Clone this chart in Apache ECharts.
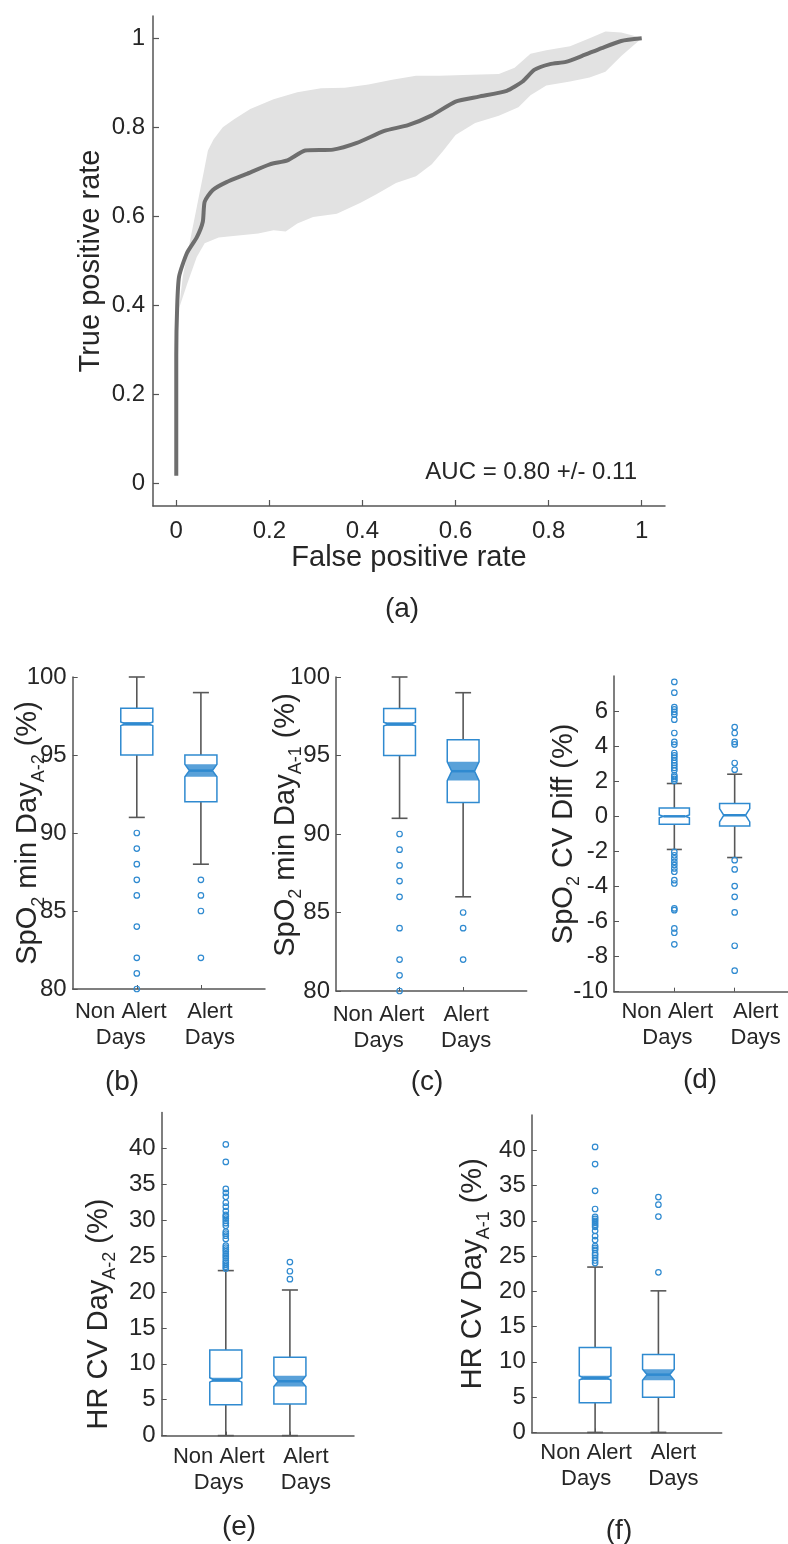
<!DOCTYPE html>
<html><head><meta charset="utf-8">
<script src="https://cdn.jsdelivr.net/npm/echarts@6/dist/echarts.min.js"></script>
<style>html,body{margin:0;padding:0;background:#fff}#c{width:788px;height:1544px}</style>
</head><body><div id="c"></div>
<script>
// ---------- DATA ----------
// (a) ROC curve
const rocFpr = [0, 0, 0.002, 0.006, 0.023, 0.044, 0.057, 0.061, 0.078, 0.108, 0.150, 0.201, 0.239, 0.277, 0.337, 0.388, 0.447, 0.498, 0.549, 0.600, 0.650, 0.710, 0.744, 0.769, 0.803, 0.837, 0.871, 0.914, 0.956, 1.0];
const rocTpr = [0.018, 0.29, 0.40, 0.465, 0.518, 0.553, 0.588, 0.633, 0.659, 0.677, 0.695, 0.717, 0.726, 0.748, 0.750, 0.765, 0.792, 0.805, 0.827, 0.858, 0.869, 0.882, 0.903, 0.929, 0.942, 0.947, 0.960, 0.978, 0.994, 1.0];
const bandUpperFpr = [0.006, 0.014, 0.031, 0.048, 0.060, 0.068, 0.080, 0.100, 0.125, 0.159, 0.209, 0.260, 0.311, 0.362, 0.413, 0.464, 0.515, 0.566, 0.634, 0.693, 0.727, 0.761, 0.795, 0.846, 0.888, 0.922, 0.956, 0.981, 1.0];
const bandUpperTpr = [0.394, 0.465, 0.553, 0.642, 0.705, 0.748, 0.773, 0.800, 0.819, 0.841, 0.863, 0.879, 0.888, 0.889, 0.896, 0.907, 0.916, 0.916, 0.918, 0.920, 0.934, 0.965, 0.973, 0.982, 1.000, 1.015, 1.013, 1.006, 1.0];
const bandLowerFpr = [0.006, 0.023, 0.044, 0.061, 0.091, 0.133, 0.176, 0.209, 0.235, 0.260, 0.294, 0.345, 0.396, 0.430, 0.472, 0.515, 0.549, 0.574, 0.600, 0.642, 0.693, 0.735, 0.761, 0.795, 0.846, 0.888, 0.922, 0.956, 1.0];
const bandLowerTpr = [0.394, 0.447, 0.509, 0.540, 0.553, 0.557, 0.562, 0.569, 0.566, 0.584, 0.599, 0.606, 0.631, 0.650, 0.675, 0.690, 0.717, 0.748, 0.783, 0.810, 0.826, 0.845, 0.872, 0.894, 0.903, 0.912, 0.925, 0.960, 1.0];
const rocTicks = [0, 0.2, 0.4, 0.6, 0.8, 1];
const aucText = 'AUC = 0.80 +/- 0.11';

// box plots: categories at x = 1, 2
const categories = ['Non Alert', 'Alert'];
// each box: [lowWhisker, q1, median, q3, highWhisker, notchLow, notchHigh]
const boxB = [[91, 95, 97, 98, 100, 96.88, 97.12], [88, 92, 94, 95, 99, 93.6, 94.4]];
const outB = [[90, 89, 88, 87, 86, 84, 82, 81, 80], [87, 86, 85, 82]];
const boxC = [[91, 95, 97, 98, 100, 96.88, 97.12], [86, 92, 94, 96, 99, 93.4, 94.6]];
const outC = [[90, 89, 88, 87, 86, 84, 82, 81, 80], [85, 84, 82]];
const boxD = [[-1.89, -0.45, 0.0, 0.48, 1.87, -0.08, 0.08], [-2.35, -0.55, 0.06, 0.73, 2.4, -0.32, 0.44]];
const outD = [
  [7.66, 7.05, 6.23, 6.1, 5.95, 5.8, 5.51, 4.75, 4.24, 4.09, 3.61, 3.48, 3.35, 3.19, 3.04, 2.91, 2.76, 2.62, 2.34, 2.24, 2.13, 2.02,
   -2.03, -2.22, -2.4, -2.6, -2.78, -2.97, -3.16, -3.64, -3.83, -5.25, -5.35, -6.39, -6.64, -7.3],
  [5.09, 4.75, 4.24, 4.1, 3.04, 2.66, -2.5, -3.03, -3.98, -4.59, -5.48, -7.38, -8.8]
];
const boxE = [[0, 4.31, 7.75, 11.93, 22.98, 7.45, 8.05], [0, 4.4, 7.57, 10.92, 20.28, 6.83, 8.35]];
const outE = [
  [40.55, 38.12, 34.36, 33.81, 33.26, 32.43, 31.88, 31.28, 30.73, 30.5, 30.23, 29.91, 29.59, 29.22, 28.39, 28.12, 27.84, 27.39, 26.47, 26.19, 25.92, 25.64, 25.28, 25.0, 24.72, 24.36, 24.08, 23.81, 23.53, 23.26],
  [24.17, 22.89, 21.79]
];
const boxF = [[0, 4.21, 7.72, 12.02, 23.44, 7.42, 8.02], [0, 5.0, 8.19, 11.04, 20.07, 7.39, 8.94]];
const outF = [
  [40.47, 38.04, 34.25, 31.67, 30.55, 30.27, 29.99, 29.71, 29.43, 29.15, 28.58, 27.84, 27.27, 26.43, 26.15, 25.87, 25.4, 25.12, 24.75, 24.37, 24.0],
  [33.36, 32.29, 30.6, 22.69]
];
const yTicksSpO2 = [80, 85, 90, 95, 100];
const yTicksDiff = [-10, -8, -6, -4, -2, 0, 2, 4, 6];
const yTicksHR = [0, 5, 10, 15, 20, 25, 30, 35, 40];

// ---------- STYLE / LAYOUT ----------
const FONT = '"Liberation Sans", Arial, Helvetica, sans-serif';
const TXT = '#262626';
const AX = '#555555';
const BLUE = '#2f8ad0';
const WHISK = '#585858';

const panels = [
  {box: boxB, out: outB, min: 80, max: 100, ticks: yTicksSpO2, grid: {left: 72.7, top: 677, width: 192.3, height: 312},
   name: '{m|SpO}{s|2}{m| min Day}{s|A-2}{m| (%)}', nameGap: 28, namePad: [0, 0, 0, 0], shiftNA: -16, shiftA: 9, catMargin: 10, fill: true},
  {box: boxC, out: outC, min: 80, max: 100, ticks: yTicksSpO2, grid: {left: 336, top: 677, width: 190.7, height: 314},
   name: '{m|SpO}{s|2}{m| min Day}{s|A-1}{m| (%)}', nameGap: 34, namePad: [0, 0, 0, 18], shiftNA: -21, shiftA: 3, catMargin: 11, fill: true},
  {box: boxD, out: outD, min: -10, max: 8, ticks: yTicksDiff, grid: {left: 614, top: 676, width: 181, height: 315.7},
   name: '{m|SpO}{s|2}{m| CV Diff (%)}', nameGap: 34, namePad: [0, 0, 0, 0], shiftNA: -7, shiftA: 21, catMargin: 7, fill: false},
  {box: boxE, out: outE, min: 0, max: 45, ticks: yTicksHR, grid: {left: 161.7, top: 1112.5, width: 192.3, height: 323.1},
   name: '{m|HR CV Day}{s|A-2}{m| (%)}', nameGap: 46, namePad: [0, 80, 0, 0], shiftNA: -7, shiftA: 16, catMargin: 8, fill: true},
  {box: boxF, out: outF, min: 0, max: 45, ticks: yTicksHR, grid: {left: 531.8, top: 1115, width: 189.9, height: 317.4},
   name: '{m|HR CV Day}{s|A-1}{m| (%)}', nameGap: 42, namePad: [0, 0, 0, 0], shiftNA: -9, shiftA: 15, catMargin: 8, fill: true}
];

const axisLineStyle = {show: true, onZero: false, lineStyle: {color: AX, width: 1.5}};
const nameRich = {
  m: {fontSize: 29, lineHeight: 31, verticalAlign: 'top', color: TXT, fontFamily: FONT},
  s: {fontSize: 18, lineHeight: 19, verticalAlign: 'top', padding: [16, 0, 0, 0], color: TXT, fontFamily: FONT}
};

function makeBoxRender(fillNotch) {
  return function (params, api) {
    const x = api.value(0);
    const p = i => api.coord([x, api.value(i)]);
    const pLo = p(1), pQ1 = p(2), pMed = p(3), pQ3 = p(4), pHi = p(5), pNl = p(6), pNh = p(7);
    const cx = pMed[0];
    const hw = api.size([0.25, 0])[0];
    const cw = api.size([0.125, 0])[0];
    const nw = hw * 0.72;
    const wl = {stroke: WHISK, lineWidth: 1.6};
    const ch = [
      {type: 'line', shape: {x1: cx, y1: pQ3[1], x2: cx, y2: pHi[1]}, style: wl},
      {type: 'line', shape: {x1: cx, y1: pQ1[1], x2: cx, y2: pLo[1]}, style: wl},
      {type: 'line', shape: {x1: cx - cw, y1: pHi[1], x2: cx + cw, y2: pHi[1]}, style: wl},
      {type: 'line', shape: {x1: cx - cw, y1: pLo[1], x2: cx + cw, y2: pLo[1]}, style: wl}
    ];
    if (fillNotch) {
      ch.push({type: 'polygon', shape: {points: [[cx - hw, pNh[1]], [cx + hw, pNh[1]], [cx + nw, pMed[1]], [cx + hw, pNl[1]], [cx - hw, pNl[1]], [cx - nw, pMed[1]]]},
        style: {fill: BLUE, opacity: 0.8}});
    }
    ch.push({type: 'polygon', shape: {points: [
      [cx - hw, pQ3[1]], [cx + hw, pQ3[1]], [cx + hw, pNh[1]], [cx + nw, pMed[1]], [cx + hw, pNl[1]],
      [cx + hw, pQ1[1]], [cx - hw, pQ1[1]], [cx - hw, pNl[1]], [cx - nw, pMed[1]], [cx - hw, pNh[1]]
    ]}, style: {fill: 'none', stroke: BLUE, lineWidth: 1.5}});
    ch.push({type: 'line', shape: {x1: cx - nw, y1: pMed[1], x2: cx + nw, y2: pMed[1]}, style: {stroke: BLUE, lineWidth: 2.5}});
    return {type: 'group', children: ch};
  };
}

const grids = [{left: 153, top: 16, width: 512, height: 490, outerBoundsMode: 'none'}];
const xAxes = [{
  gridIndex: 0, type: 'value', min: -0.05, max: 1.05,
  axisLine: axisLineStyle, splitLine: {show: false},
  axisTick: {show: true, inside: true, length: 6, customValues: rocTicks, lineStyle: {color: AX, width: 1.2}},
  axisLabel: {customValues: rocTicks, fontSize: 24, margin: 13, color: TXT, fontFamily: FONT, hideOverlap: false},
  name: 'False positive rate', nameLocation: 'middle', nameGap: 37, nameMoveOverlap: false,
  nameTextStyle: {fontSize: 29, color: TXT, fontFamily: FONT}
}];
const yAxes = [{
  gridIndex: 0, type: 'value', min: -0.05, max: 1.05,
  axisLine: axisLineStyle, splitLine: {show: false},
  axisTick: {show: true, inside: true, length: 6, customValues: rocTicks, lineStyle: {color: AX, width: 1.2}},
  axisLabel: {customValues: rocTicks, fontSize: 24, margin: 8, color: TXT, fontFamily: FONT, hideOverlap: false},
  name: 'True positive rate', nameLocation: 'middle', nameGap: 48, nameMoveOverlap: false,
  nameTextStyle: {fontSize: 29, color: TXT, fontFamily: FONT}
}];

const series = [
  {
    type: 'custom', xAxisIndex: 0, yAxisIndex: 0, silent: true, z: 1, data: [[0, 0]],
    renderItem: function (params, api) {
      if (params.dataIndex !== 0) return null;
      const pts = [];
      for (let i = 0; i < bandUpperFpr.length; i++) pts.push(api.coord([bandUpperFpr[i], bandUpperTpr[i]]));
      for (let i = bandLowerFpr.length - 1; i >= 0; i--) pts.push(api.coord([bandLowerFpr[i], bandLowerTpr[i]]));
      return {type: 'polygon', shape: {points: pts}, style: {fill: '#e2e2e2'}};
    }
  },
  {
    type: 'line', xAxisIndex: 0, yAxisIndex: 0, z: 3, symbol: 'none', smooth: 0.2,
    data: rocFpr.map((v, i) => [v, rocTpr[i]]),
    lineStyle: {color: '#6e6e6e', width: 4}
  }
];

panels.forEach((pn, k) => {
  const gi = k + 1;
  grids.push(Object.assign({outerBoundsMode: 'none'}, pn.grid));
  const pxPerUnit = pn.grid.width / 3;
  const labelPos = [1 + pn.shiftNA / pxPerUnit, 2 + pn.shiftA / pxPerUnit];
  xAxes.push({
    gridIndex: gi, type: 'value', min: 0, max: 3,
    axisLine: axisLineStyle, splitLine: {show: false},
    axisTick: {show: true, inside: true, length: 4, customValues: [1, 2], lineStyle: {color: AX}},
    axisLabel: {
      customValues: labelPos, margin: pn.catMargin, color: TXT, fontFamily: FONT,
      fontSize: 22, lineHeight: 26, hideOverlap: false, showMinLabel: true, showMaxLabel: true,
      formatter: v => (v < 1.5 ? categories[0] : categories[1]) + '\nDays'
    }
  });
  yAxes.push({
    gridIndex: gi, type: 'value', min: pn.min, max: pn.max,
    axisLine: axisLineStyle, splitLine: {show: false},
    axisTick: {show: true, inside: true, length: 5, customValues: pn.ticks, lineStyle: {color: AX}},
    axisLabel: {customValues: pn.ticks, fontSize: 24, margin: 6, color: TXT, fontFamily: FONT, hideOverlap: false},
    name: pn.name, nameLocation: 'middle', nameGap: pn.nameGap, nameMoveOverlap: false,
    nameTextStyle: {rich: nameRich, padding: pn.namePad}
  });
  series.push({
    type: 'custom', xAxisIndex: gi, yAxisIndex: gi, z: 2, silent: true,
    renderItem: makeBoxRender(pn.fill),
    encode: {x: 0, y: [1, 2, 3, 4, 5]},
    data: pn.box.map((b, i) => [i + 1].concat(b))
  });
  const pts = [];
  pn.out.forEach((arr, i) => arr.forEach(v => pts.push([i + 1, v])));
  series.push({
    type: 'scatter', xAxisIndex: gi, yAxisIndex: gi, z: 4, silent: true,
    symbol: 'circle', symbolSize: 5.5,
    itemStyle: {color: 'rgba(255,255,255,0)', borderColor: BLUE, borderWidth: 1.2, opacity: 1},
    data: pts
  });
});

const labelStyle = (t, x, y, size) => ({type: 'text', x: x, y: y,
  style: {text: t, fill: TXT, font: size + 'px ' + FONT, align: 'center', verticalAlign: 'middle'}});

const option = {
  backgroundColor: '#ffffff',
  animation: false,
  grid: grids,
  xAxis: xAxes,
  yAxis: yAxes,
  series: series,
  graphic: [
    {type: 'text', x: 637, y: 472, style: {text: aucText, fill: TXT, font: '24px ' + FONT, align: 'right', verticalAlign: 'middle'}},
    labelStyle('(a)', 402, 609, 28),
    labelStyle('(b)', 122, 1082, 28),
    labelStyle('(c)', 427, 1082, 28),
    labelStyle('(d)', 700, 1080, 28),
    labelStyle('(e)', 239, 1527, 28),
    labelStyle('(f)', 619, 1531, 28)
  ]
};

const chart = echarts.init(document.getElementById('c'), null, {renderer: 'canvas'});
chart.setOption(option);
</script>
</body></html>
